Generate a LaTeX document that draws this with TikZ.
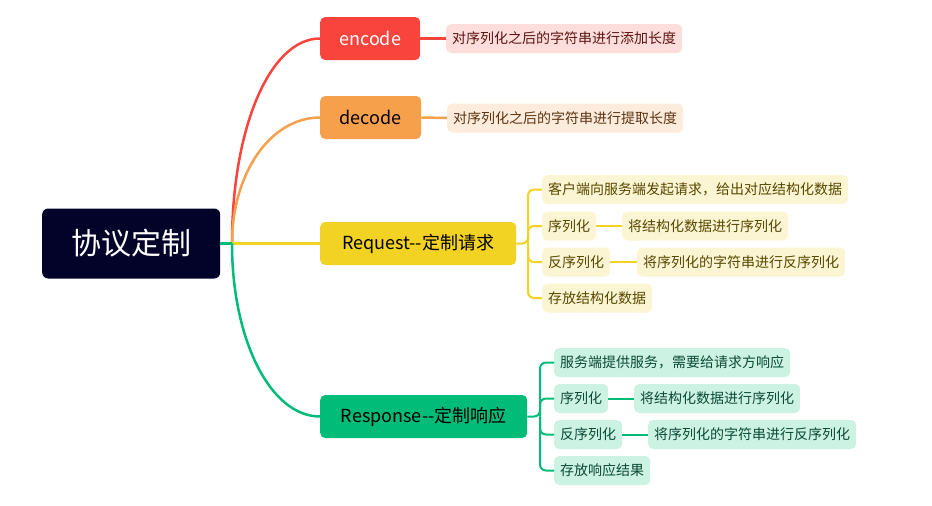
\documentclass[tikz,border=0pt]{standalone}
\usepackage{fontspec}
\setmainfont{Noto Sans CJK SC}
\newfontfamily\cjk{Noto Sans CJK SC}
\definecolor{rootc}{HTML}{03032A}
\definecolor{redc}{HTML}{F9443E}
\definecolor{orgc}{HTML}{F7A04C}
\definecolor{yelc}{HTML}{F2D323}
\definecolor{grnc}{HTML}{00BC78}
\definecolor{redl}{HTML}{FEDEDC}
\definecolor{orgl}{HTML}{FDECDB}
\definecolor{yell}{HTML}{FCF5D3}
\definecolor{grnl}{HTML}{CCF2E4}
\definecolor{redt}{HTML}{5C1512}
\definecolor{orgt}{HTML}{5C3414}
\definecolor{yelt}{HTML}{574800}
\definecolor{grnt}{HTML}{0B4A36}
\tikzset{
  leaf/.style={rounded corners=5pt, inner xsep=6pt, inner ysep=0pt, minimum height=29pt, anchor=west, font=\cjk\fontsize{14}{14}\selectfont},
  branch/.style={rounded corners=5pt, inner sep=0pt, minimum height=43pt, anchor=west, font=\cjk\fontsize{18}{18}\selectfont},
  mainline/.style={line width=2.5pt},
  subline/.style={line width=2pt, rounded corners=6pt},
}
\begin{document}
\begin{tikzpicture}[x=1pt,y=-1pt]
\useasboundingbox (0,0) rectangle (932,506);
% root
\node[rounded corners=6pt, fill=rootc, text=white, minimum width=178pt, minimum height=70pt, anchor=west, inner sep=0pt, font=\cjk\fontsize{30}{30}\selectfont] (root) at (42,243.5) {协议定制};
% branches
\node[branch, fill=redc, text=white, minimum width=100pt] (enc) at (320,38.5) {encode};
\node[branch, fill=orgc, text=black, minimum width=101pt] (dec) at (320,117.5) {decode};
\node[branch, fill=yelc, text=black, minimum width=196pt] (req) at (320,243.5) {Request--定制请求};
\node[branch, fill=grnc, text=black, minimum width=207pt] (res) at (320,416.5) {Response--定制响应};
% leaves
\node[leaf, fill=redl, text=redt] (encl) at (446,38.5) {对序列化之后的字符串进行添加长度};
\node[leaf, fill=orgl, text=orgt] (decl) at (447,118) {对序列化之后的字符串进行提取长度};
\node[leaf, fill=yell, text=yelt] (q1) at (542,189.5) {客户端向服务端发起请求，给出对应结构化数据};
\node[leaf, fill=yell, text=yelt] (q2) at (542,226) {序列化};
\node[leaf, fill=yell, text=yelt] (q2b) at (622,226) {将结构化数据进行序列化};
\node[leaf, fill=yell, text=yelt] (q3) at (542,262) {反序列化};
\node[leaf, fill=yell, text=yelt] (q3b) at (637,262) {将序列化的字符串进行反序列化};
\node[leaf, fill=yell, text=yelt] (q4) at (542,298) {存放结构化数据};
\node[leaf, fill=grnl, text=grnt] (s1) at (554,362.5) {服务端提供服务，需要给请求方响应};
\node[leaf, fill=grnl, text=grnt] (s2) at (554,398.5) {序列化};
\node[leaf, fill=grnl, text=grnt] (s2b) at (634,398.5) {将结构化数据进行序列化};
\node[leaf, fill=grnl, text=grnt] (s3) at (554,434.5) {反序列化};
\node[leaf, fill=grnl, text=grnt] (s3b) at (648,434.5) {将序列化的字符串进行反序列化};
\node[leaf, fill=grnl, text=grnt] (s4) at (554,470.5) {存放响应结果};
% hubs
\coordinate (hub) at (232,243.5);
\coordinate (rb) at (528,243.5);
\coordinate (sb) at (540,416.5);
% main connectors
\draw[mainline, redc] (hub) .. controls (232,128) and (270,38.5) .. (enc.west);
\draw[mainline, orgc] (hub) .. controls (232,174) and (270,117.5) .. (dec.west);
\draw[mainline, yelc] (hub) -- (req.west);
\draw[mainline, grnc] (hub) .. controls (232,339) and (270,416.5) .. (res.west);
\draw[mainline, grnc] (root.east) -- (hub);
\draw[mainline, redc] (enc.east) -- (encl.west);
\draw[mainline, orgc] (dec.east) -- (decl.west);
% request bracket
\draw[subline, yelc] (req.east) -- (rb) |- (q1.west);
\draw[subline, yelc] (rb) |- (q2.west);
\draw[subline, yelc] (rb) |- (q3.west);
\draw[subline, yelc] (rb) |- (q4.west);
\draw[subline, yelc] (q2.east) -- (q2b.west);
\draw[subline, yelc] (q3.east) -- (q3b.west);
% response bracket
\draw[subline, grnc] (res.east) -- (sb) |- (s1.west);
\draw[subline, grnc] (sb) |- (s2.west);
\draw[subline, grnc] (sb) |- (s3.west);
\draw[subline, grnc] (sb) |- (s4.west);
\draw[subline, grnc] (s2.east) -- (s2b.west);
\draw[subline, grnc] (s3.east) -- (s3b.west);
\end{tikzpicture}
\end{document}
